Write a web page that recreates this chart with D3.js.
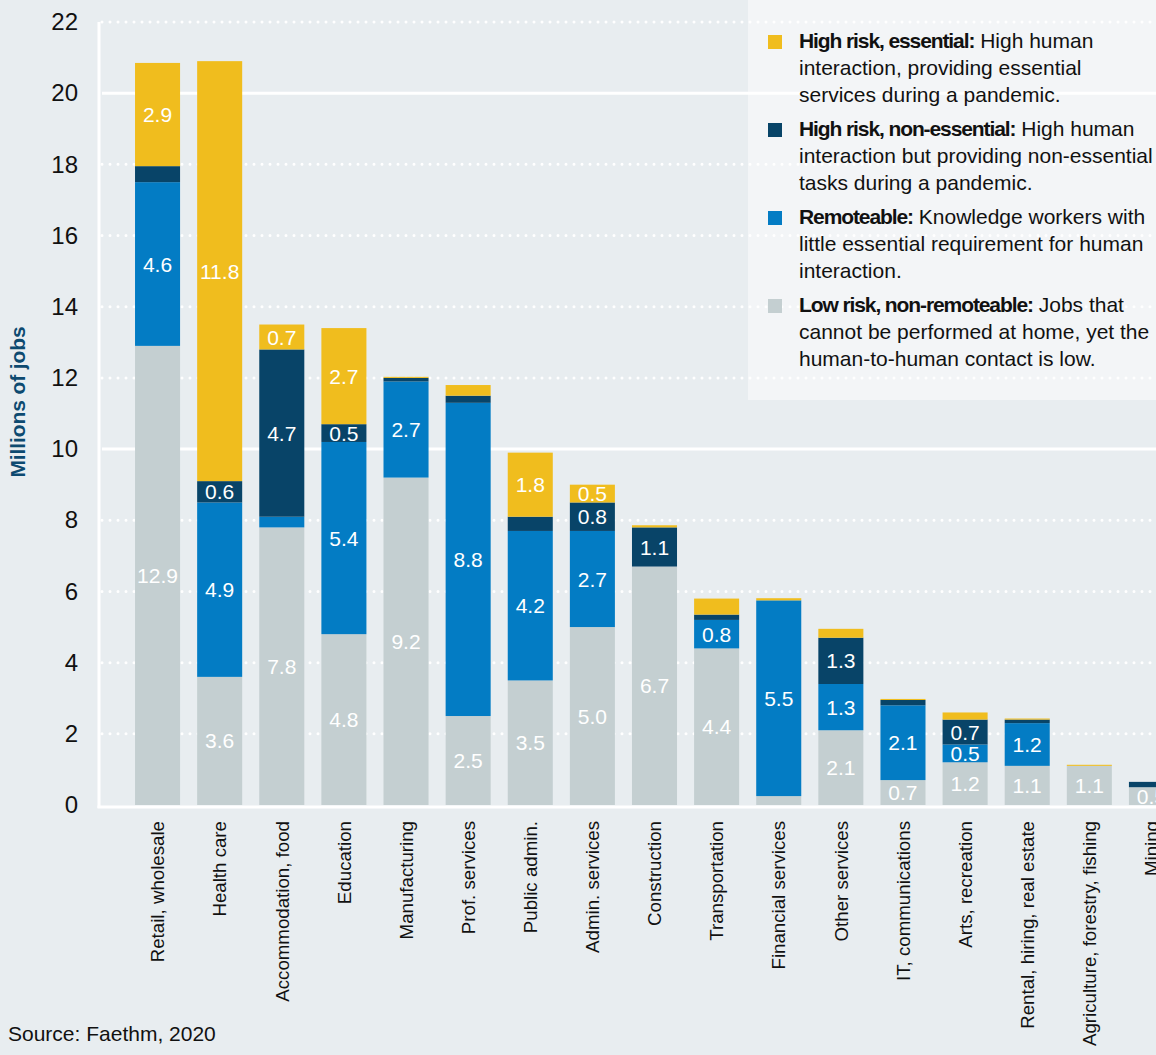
<!DOCTYPE html>
<html>
<head>
<meta charset="utf-8">
<script src="https://cdn.jsdelivr.net/npm/d3@7"></script>
<style>
  html, body { margin: 0; padding: 0; background: #e8edf0; }
  svg { display: block; font-family: "Liberation Sans", Arial, sans-serif; }
</style>
</head>
<body>
<svg id="chart"></svg>
<script>
// categories and values (millions of jobs), bottom to top of each stack
const categories = ["Retail, wholesale", "Health care", "Accommodation, food", "Education",
  "Manufacturing", "Prof. services", "Public admin.", "Admin. services", "Construction",
  "Transportation", "Financial services", "Other services", "IT, communications",
  "Arts, recreation", "Rental, hiring, real estate", "Agriculture, forestry, fishing", "Mining"];
const lowRisk          = [12.9, 3.6, 7.8, 4.8, 9.2, 2.5, 3.5, 5.0, 6.7, 4.4, 0.25, 2.1, 0.7, 1.2, 1.1, 1.1, 0.5];
const remoteable       = [4.6, 4.9, 0.3, 5.4, 2.7, 8.8, 4.2, 2.7, 0, 0.8, 5.5, 1.3, 2.1, 0.5, 1.2, 0, 0];
const highNonEssential = [0.45, 0.6, 4.7, 0.5, 0.1, 0.2, 0.4, 0.8, 1.1, 0.15, 0, 1.3, 0.15, 0.7, 0.1, 0, 0.15];
const highEssential    = [2.9, 11.8, 0.7, 2.7, 0.03, 0.3, 1.8, 0.5, 0.06, 0.45, 0.06, 0.25, 0.03, 0.2, 0.03, 0.03, 0];
const yTicks = [0, 2, 4, 6, 8, 10, 12, 14, 16, 18, 20, 22];

const keys = ["low", "remote", "highNon", "highEss"];
const colors = { low: "#c4cfd1", remote: "#037cc4", highNon: "#084468", highEss: "#f0bd1e" };

const legendItems = [
  { key: "highEss", bold: "High risk, essential:", lines: [" High human", "interaction, providing essential", "services during a pandemic."] },
  { key: "highNon", bold: "High risk, non-essential:", lines: [" High human", "interaction but providing non-essential", "tasks during a pandemic."] },
  { key: "remote", bold: "Remoteable:", lines: [" Knowledge workers with", "little essential requirement for human", "interaction."] },
  { key: "low", bold: "Low risk, non-remoteable:", lines: [" Jobs that", "cannot be performed at home, yet the", "human-to-human contact is low."] }
];

const W = 1156, H = 1055;
const svg = d3.select("#chart").attr("width", W).attr("height", H);

svg.append("rect").attr("width", W).attr("height", H).attr("fill", "#e8edf0");

// legend panel behind the gridlines
svg.append("rect")
  .attr("x", 748).attr("y", 0).attr("width", W - 748).attr("height", 400)
  .attr("fill", "#f3f5f7");

// scales
const axisX = 99;
const y = d3.scaleLinear().domain([0, 22]).range([805, 22]);
const x = d3.scaleBand().domain(categories)
  .range([axisX, 1210]).paddingInner(0.275).paddingOuter(0.58);

// gridlines: solid at 10 and 20, dotted elsewhere
svg.append("g").selectAll("line")
  .data(yTicks.filter(d => d > 0))
  .join("line")
  .attr("x1", axisX + 3).attr("x2", W)
  .attr("y1", d => y(d)).attr("y2", d => y(d))
  .attr("stroke", "#fff")
  .attr("stroke-width", 3)
  .attr("stroke-linecap", d => d % 10 === 0 ? "butt" : "round")
  .attr("stroke-dasharray", d => d % 10 === 0 ? null : "0,8");

// stacked data
const rows = categories.map((c, i) => ({
  cat: c, low: lowRisk[i], remote: remoteable[i], highNon: highNonEssential[i], highEss: highEssential[i]
}));
const series = d3.stack().keys(keys)(rows);

const layers = svg.append("g").selectAll("g")
  .data(series)
  .join("g")
  .attr("fill", d => colors[d.key]);

layers.selectAll("rect")
  .data(d => d)
  .join("rect")
  .attr("x", d => x(d.data.cat))
  .attr("width", x.bandwidth())
  .attr("y", d => y(d[1]))
  .attr("height", d => y(d[0]) - y(d[1]));

// value labels inside segments
layers.selectAll("text")
  .data(d => d.filter(s => s[1] - s[0] >= 0.5))
  .join("text")
  .attr("x", d => x(d.data.cat) + x.bandwidth() / 2)
  .attr("y", d => (y(d[0]) + y(d[1])) / 2)
  .attr("dy", "0.36em")
  .attr("text-anchor", "middle")
  .attr("fill", "#fff")
  .attr("font-size", 21)
  .text(d => (d[1] - d[0]).toFixed(1));

// axes lines
svg.append("line")
  .attr("x1", axisX).attr("x2", axisX).attr("y1", 22).attr("y2", 808)
  .attr("stroke", "#fff").attr("stroke-width", 3);
svg.append("line")
  .attr("x1", axisX - 1.5).attr("x2", W).attr("y1", 807).attr("y2", 807)
  .attr("stroke", "#fff").attr("stroke-width", 3);

// y tick labels
const yAxis = svg.append("g")
  .attr("transform", `translate(${axisX},0)`)
  .call(d3.axisLeft(y).tickValues(yTicks).tickSize(0).tickPadding(21));
yAxis.select(".domain").remove();
yAxis.selectAll("text")
  .attr("font-family", "Liberation Sans, Arial, sans-serif")
  .attr("font-size", 24).attr("fill", "#111");

// y title
svg.append("text")
  .attr("transform", "translate(25,402) rotate(-90)")
  .attr("text-anchor", "middle")
  .attr("font-size", 21).attr("font-weight", "bold")
  .attr("letter-spacing", "-0.1")
  .attr("fill", "#0d4a70")
  .text("Millions of jobs");

// x labels rotated
const xAxis = svg.append("g")
  .attr("transform", "translate(0,807)")
  .call(d3.axisBottom(x).tickSize(0).tickPadding(0));
xAxis.select(".domain").remove();
xAxis.selectAll("text")
  .attr("font-family", "Liberation Sans, Arial, sans-serif")
  .attr("font-size", 18.7).attr("fill", "#111")
  .attr("text-anchor", "end")
  .attr("transform", "rotate(-90)")
  .attr("x", -14).attr("y", 0).attr("dy", "0.36em");

// legend
const leg = svg.append("g");
let baseY = 48;
legendItems.forEach(item => {
  leg.append("rect")
    .attr("x", 768).attr("y", baseY - 13).attr("width", 14).attr("height", 14)
    .attr("fill", colors[item.key]);
  const t = leg.append("text").attr("font-size", 21).attr("fill", "#111");
  const first = t.append("tspan").attr("x", 799).attr("y", baseY);
  first.append("tspan").attr("font-weight", "bold").attr("letter-spacing", "-1.1").text(item.bold);
  first.append("tspan").text(item.lines[0]);
  item.lines.slice(1).forEach((ln, k) => {
    t.append("tspan").attr("x", 799).attr("y", baseY + 27 * (k + 1)).text(ln);
  });
  baseY += 27 * item.lines.length + 7;
});

// source
svg.append("text")
  .attr("x", 8).attr("y", 1041)
  .attr("font-size", 21).attr("fill", "#111")
  .text("Source: Faethm, 2020");
</script>
</body>
</html>
